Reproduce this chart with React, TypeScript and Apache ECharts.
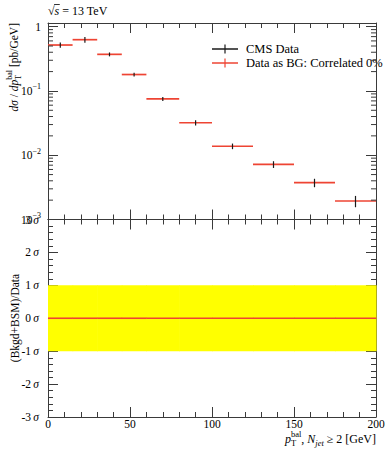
import { useEffect, useRef } from 'react';
import * as echarts from 'echarts';

const FONT = '"Liberation Serif", "DejaVu Serif", serif';
const AXIS_COLOR = '#3a3a3a';
const RED = '#ee4433';
const BLACK = '#1a1a1a';
const YELLOW = '#ffff00';

// ---------------- data ----------------
const binLow = [0, 15, 30, 45, 60, 80, 100, 125, 150, 175];
const binHigh = [15, 30, 45, 60, 80, 100, 125, 150, 175, 200];
const cmsData = [0.518, 0.627, 0.371, 0.18, 0.075, 0.032, 0.0138, 0.0072, 0.00374, 0.00194];
const cmsRelErr = [0.09, 0.1, 0.07, 0.07, 0.07, 0.09, 0.1, 0.12, 0.15, 0.2];
const bgPrediction = [0.518, 0.627, 0.371, 0.18, 0.075, 0.032, 0.0138, 0.0072, 0.00374, 0.00194];
const ratioSigma = [0, 0, 0, 0, 0, 0, 0, 0, 0, 0];
const bandSigma = [1, 1, 1, 1, 1, 1, 1, 1, 1, 1];
const logMinorTicks = [
  0.002, 0.003, 0.004, 0.005, 0.006, 0.007, 0.008, 0.009,
  0.02, 0.03, 0.04, 0.05, 0.06, 0.07, 0.08, 0.09,
  0.2, 0.3, 0.4, 0.5, 0.6, 0.7, 0.8, 0.9,
];
const legendLabels = ['CMS Data', 'Data as BG: Correlated 0%'];

// ---------------- text layout helpers ----------------
type Tok = { t: string; s?: number; i?: boolean; dy?: number; noAdv?: boolean };

let measureCtx: CanvasRenderingContext2D | null = null;
function textWidth(t: string, size: number, italic: boolean): number {
  if (!measureCtx) measureCtx = document.createElement('canvas').getContext('2d');
  if (!measureCtx) return t.length * size * 0.5;
  measureCtx.font = `${italic ? 'italic ' : ''}${size}px ${FONT}`;
  return measureCtx.measureText(t).width;
}

function layoutTokens(tokens: Tok[], base: number, fill: string) {
  let cx = 0;
  const els: any[] = [];
  const xs: number[] = [];
  const ws: number[] = [];
  tokens.forEach((tok) => {
    const size = tok.s ?? base;
    const w = textWidth(tok.t, size, !!tok.i);
    xs.push(cx);
    ws.push(w);
    els.push({
      type: 'text',
      x: cx,
      y: tok.dy ?? 0,
      silent: true,
      style: {
        text: tok.t,
        fontSize: size,
        fontFamily: FONT,
        fontStyle: tok.i ? 'italic' : 'normal',
        fill,
        align: 'left',
        verticalAlign: 'middle',
      },
    });
    if (!tok.noAdv) cx += w;
  });
  return { els, width: cx, xs, ws };
}

function buildOption() {
  const lineStyle = { color: AXIS_COLOR, width: 1 };

  const xAxisDef = (gridIndex: number, position: string, showLabel: boolean) => ({
    type: 'value',
    gridIndex,
    position,
    min: 0,
    max: 200,
    interval: 50,
    axisLine: { show: true, onZero: false, lineStyle },
    axisTick: { show: true, inside: true, length: 10, lineStyle },
    minorTick: { show: true, splitNumber: 5, length: 5, lineStyle },
    splitLine: { show: false },
    minorSplitLine: { show: false },
    axisLabel: showLabel
      ? { show: true, margin: 1, color: '#000', fontFamily: FONT, fontSize: 11.5, showMinLabel: true, showMaxLabel: true }
      : { show: false },
  });

  const logFmt = (v: number) => {
    const e = Math.round(Math.log10(v));
    const p = Math.pow(10, e);
    if (Math.abs(v - p) / p > 1e-6) return '';
    if (e === 0) return '{b|1}';
    return `{b|10}{s|\u2212${-e}}`;
  };

  const yLogDef = (position: string, showLabel: boolean) => ({
    type: 'log',
    logBase: 10,
    gridIndex: 0,
    position,
    min: 0.001,
    max: 1.14,
    axisLine: { show: true, onZero: false, lineStyle },
    axisTick: { show: true, inside: true, length: 10, lineStyle },
    splitLine: { show: false },
    axisLabel: showLabel
      ? {
          show: true,
          margin: 7,
          formatter: logFmt,
          showMinLabel: true,
          showMaxLabel: true,
          rich: {
            b: { fontFamily: FONT, fontSize: 11.5, color: '#000', lineHeight: 16, verticalAlign: 'middle' },
            s: { fontFamily: FONT, fontSize: 8, color: '#000', lineHeight: 10, verticalAlign: 'top' },
          },
        }
      : { show: false },
  });

  const ySigDef = (position: string, showLabel: boolean) => ({
    type: 'value',
    gridIndex: 1,
    position,
    min: -3,
    max: 3,
    interval: 1,
    axisLine: { show: true, onZero: false, lineStyle },
    axisTick: { show: true, inside: true, length: 10, lineStyle },
    minorTick: { show: true, splitNumber: 5, length: 5, lineStyle },
    splitLine: { show: false },
    minorSplitLine: { show: false },
    axisLabel: showLabel
      ? {
          show: true,
          margin: 9,
          showMinLabel: true,
          showMaxLabel: true,
          formatter: (v: number) => `{n|${v}\u2009}{g|σ}`,
          rich: {
            n: { fontFamily: FONT, fontSize: 11.5, color: '#000' },
            g: { fontFamily: FONT, fontSize: 11.5, color: '#000', fontStyle: 'italic' },
          },
        }
      : { show: false },
  });

  // --------- graphic texts ---------
  const graphics: any[] = [];

  // sqrt(s) = 13 TeV
  const top = layoutTokens([{ t: '√' }, { t: 's', i: true }, { t: ' = 13 TeV' }], 12, '#000');
  graphics.push({ type: 'group', x: 48, y: 11, children: top.els });
  graphics.push({
    type: 'line',
    silent: true,
    shape: { x1: 48 + top.xs[1] - 0.5, y1: 4.5, x2: 48 + top.xs[1] + top.ws[1] + 0.5, y2: 4.5 },
    style: { stroke: '#000', lineWidth: 0.8 },
  });

  // legend
  const legendY = [49, 63];
  const legendColors = [BLACK, RED];
  legendLabels.forEach((lab, i) => {
    const y = legendY[i];
    graphics.push({
      type: 'line', silent: true,
      shape: { x1: 212, y1: y, x2: 238, y2: y },
      style: { stroke: legendColors[i], lineWidth: 1.5 },
    });
    graphics.push({
      type: 'line', silent: true,
      shape: { x1: 225, y1: y - 4.5, x2: 225, y2: y + 4.5 },
      style: { stroke: legendColors[i], lineWidth: 1.2 },
    });
    graphics.push({
      type: 'text', x: 246, y, silent: true,
      style: { text: lab, fontSize: 12.5, fontFamily: FONT, fill: '#000', align: 'left', verticalAlign: 'middle' },
    });
  });

  // top y-axis title (rotated)
  const yt = layoutTokens(
    [
      { t: 'dσ', i: true },
      { t: ' / ' },
      { t: 'dp', i: true },
      { t: 'T', s: 8, dy: 4, noAdv: true },
      { t: 'bal', s: 8, dy: -5 },
      { t: ' [pb/GeV]' },
    ],
    11.5,
    '#000'
  );
  graphics.push({ type: 'group', x: 14, y: 23 + yt.width, rotation: Math.PI / 2, children: yt.els });

  // bottom y-axis title (rotated, centered on lower panel)
  const yb = layoutTokens([{ t: '(Bkgd+BSM)/Data' }], 11.5, '#000');
  graphics.push({ type: 'group', x: 15, y: 318 + yb.width / 2, rotation: Math.PI / 2, children: yb.els });

  // x-axis title (right aligned)
  const xt = layoutTokens(
    [
      { t: 'p', i: true },
      { t: 'T', s: 8.5, dy: 4, noAdv: true },
      { t: 'bal', s: 8.5, dy: -5 },
      { t: ', ' },
      { t: 'N', i: true },
      { t: 'jet', i: true, s: 8.5, dy: 4 },
      { t: ' ≥ 2 [GeV]' },
    ],
    12,
    '#000'
  );
  graphics.push({ type: 'group', x: 376 - xt.width, y: 439, children: xt.els });

  return {
    animation: false,
    backgroundColor: '#fff',
    textStyle: { fontFamily: FONT },
    grid: [
      { left: 48, right: 13, top: 23, height: 196.5, outerBoundsMode: 'none' },
      { left: 48, right: 13, top: 219.5, height: 197.5, outerBoundsMode: 'none' },
    ],
    xAxis: [
      xAxisDef(0, 'bottom', false),
      xAxisDef(0, 'top', false),
      xAxisDef(1, 'bottom', true),
      xAxisDef(1, 'top', false),
    ],
    yAxis: [yLogDef('left', true), yLogDef('right', false), ySigDef('left', true), ySigDef('right', false)],
    series: [
      {
        type: 'custom',
        name: 'log minor ticks',
        xAxisIndex: 0,
        yAxisIndex: 0,
        silent: true,
        clip: false,
        z: 5,
        data: logMinorTicks.map((v) => [0, v]),
        encode: { x: 0, y: 1 },
        renderItem: (_p: any, api: any) => {
          const v = api.value(1);
          const l = api.coord([0, v]);
          const r = api.coord([200, v]);
          return {
            type: 'group',
            children: [
              { type: 'line', shape: { x1: l[0], y1: l[1], x2: l[0] + 5, y2: l[1] }, style: { stroke: AXIS_COLOR, lineWidth: 1 } },
              { type: 'line', shape: { x1: r[0] - 5, y1: r[1], x2: r[0], y2: r[1] }, style: { stroke: AXIS_COLOR, lineWidth: 1 } },
            ],
          };
        },
      },
      {
        type: 'custom',
        name: legendLabels[1],
        xAxisIndex: 0,
        yAxisIndex: 0,
        z: 3,
        data: binLow.map((lo, i) => [lo, binHigh[i], bgPrediction[i]]),
        encode: { x: [0, 1], y: 2 },
        renderItem: (_p: any, api: any) => {
          const a = api.coord([api.value(0), api.value(2)]);
          const b = api.coord([api.value(1), api.value(2)]);
          return { type: 'line', shape: { x1: a[0], y1: a[1], x2: b[0], y2: b[1] }, style: { stroke: RED, lineWidth: 1.7 } };
        },
      },
      {
        type: 'custom',
        name: legendLabels[0],
        xAxisIndex: 0,
        yAxisIndex: 0,
        z: 4,
        data: binLow.map((lo, i) => [
          (lo + binHigh[i]) / 2,
          cmsData[i],
          cmsData[i] * (1 - cmsRelErr[i]),
          cmsData[i] * (1 + cmsRelErr[i]),
        ]),
        encode: { x: 0, y: [1, 2, 3] },
        renderItem: (_p: any, api: any) => {
          const lo = api.coord([api.value(0), api.value(2)]);
          const hi = api.coord([api.value(0), api.value(3)]);
          return { type: 'line', shape: { x1: lo[0], y1: lo[1], x2: hi[0], y2: hi[1] }, style: { stroke: BLACK, lineWidth: 1.2 } };
        },
      },
      {
        type: 'custom',
        name: '1 sigma band',
        xAxisIndex: 2,
        yAxisIndex: 2,
        z: 1,
        silent: true,
        data: binLow.map((lo, i) => [lo, binHigh[i], -bandSigma[i], bandSigma[i]]),
        encode: { x: [0, 1], y: [2, 3] },
        renderItem: (_p: any, api: any) => {
          const a = api.coord([api.value(0), api.value(3)]);
          const b = api.coord([api.value(1), api.value(2)]);
          return {
            type: 'rect',
            shape: { x: a[0], y: a[1], width: b[0] - a[0] + 0.6, height: b[1] - a[1] },
            style: { fill: YELLOW },
          };
        },
      },
      {
        type: 'custom',
        name: 'ratio',
        xAxisIndex: 2,
        yAxisIndex: 2,
        z: 3,
        data: binLow.map((lo, i) => [lo, binHigh[i], ratioSigma[i]]),
        encode: { x: [0, 1], y: 2 },
        renderItem: (_p: any, api: any) => {
          const a = api.coord([api.value(0), api.value(2)]);
          const b = api.coord([api.value(1), api.value(2)]);
          return { type: 'line', shape: { x1: a[0], y1: a[1], x2: b[0] + 0.3, y2: b[1] }, style: { stroke: RED, lineWidth: 1.6 } };
        },
      },
    ],
    graphic: { elements: graphics },
  };
}

export default function App() {
  const ref = useRef<HTMLDivElement>(null);
  useEffect(() => {
    if (!ref.current) return;
    const chart = echarts.init(ref.current, null, { renderer: 'svg' });
    chart.setOption(buildOption() as any);
    return () => {
      chart.dispose();
    };
  }, []);
  return (
    <div
      ref={ref}
      style={{ position: 'fixed', left: 0, top: 0, width: 389, height: 450, background: '#fff' }}
    />
  );
}
